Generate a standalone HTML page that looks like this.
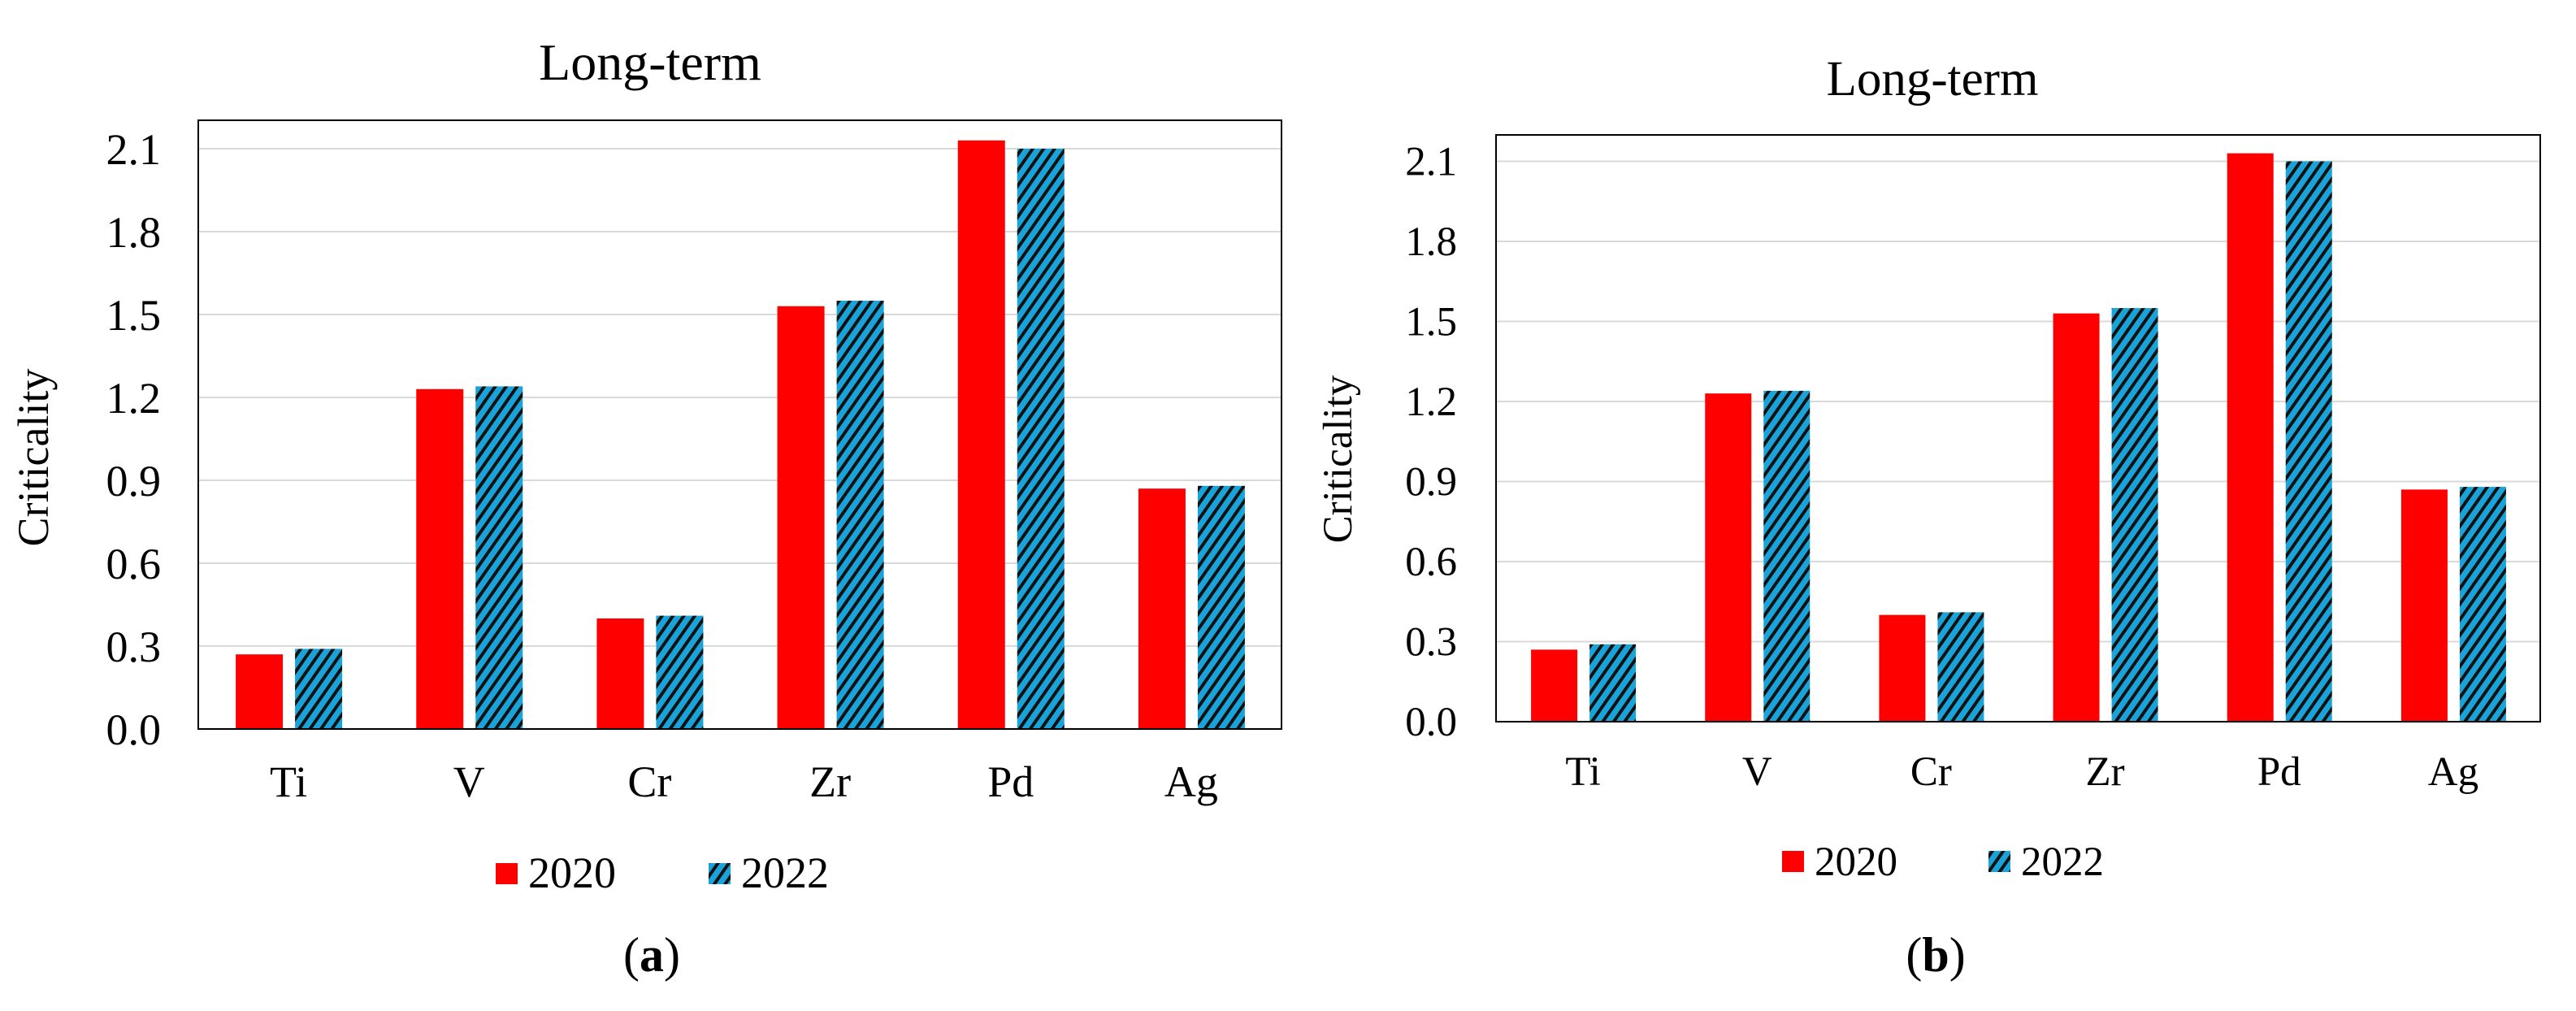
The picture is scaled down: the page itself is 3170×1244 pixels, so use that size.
<!DOCTYPE html>
<html><head><meta charset="utf-8"><style>
html,body{margin:0;padding:0;background:#fff;}
svg{display:block;font-family:"Liberation Serif",serif;}
</style></head><body>
<svg id="fig" width="3170" height="1244" viewBox="0 0 3170 1244">
<defs>
<pattern id="hatch" patternUnits="userSpaceOnUse" width="11" height="11" patternTransform="rotate(35)">
<rect width="11" height="11" fill="#1aa3d9"/>
<rect width="4" height="11" fill="#111"/>
</pattern>
</defs>
</svg>
<script>
const categories = ["Ti","V","Cr","Zr","Pd","Ag"];
const values2020 = [0.27,1.23,0.40,1.53,2.13,0.87];
const values2022 = [0.29,1.24,0.41,1.55,2.10,0.88];
const yTicks = [0,0.3,0.6,0.9,1.2,1.5,1.8,2.1];
const tickLabels = ["0.0","0.3","0.6","0.9","1.2","1.5","1.8","2.1"];
const seriesNames = ["2020","2022"];

const NS="http://www.w3.org/2000/svg";
const svg=document.getElementById('fig');
function mk(tag,attrs,parent){const e=document.createElementNS(NS,tag);for(const k in attrs)e.setAttribute(k,attrs[k]);(parent||svg).appendChild(e);return e;}

const panels=[
 {id:'a',x0:244,x1:1577,top:148,y03:795,y0:897,fs:54,tfs:64,titleX:800,titleY:98,labX:198,labDy:19,catY:980,yTitleX:59,yTitleY:563,legY:1075,leg:[610,872],label:'a',labelX:802,labelY:1195,barW:58},
 {id:'b',x0:1841,x1:3126,top:166,y03:789.5,y0:888,fs:51,tfs:61,titleX:2378,titleY:117,labX:1793,labDy:17,catY:966,yTitleX:1663,yTitleY:565,legY:1060,leg:[2193,2447],label:'b',labelX:2382,labelY:1195,barW:57}
];
panels.forEach(p=>{
 const g=mk('g',{});
 
 
 const yS=v=>p.y0-(p.y0-p.y03)*v/0.3;
 const cw=(p.x1-p.x0)/categories.length;
 const t=mk('text',{x:p.titleX,y:p.titleY,'font-size':p.tfs,'text-anchor':'middle'},g);t.textContent='Long-term';
 
 
 yTicks.forEach((v,i)=>{
  if(v>0){const l=mk('line',{x1:p.x0,x2:p.x1,y1:yS(v),y2:yS(v),stroke:'#d9d9d9','stroke-width':2},g);
   
   }
  const tx=mk('text',{x:p.labX,y:yS(v)+p.labDy,'font-size':p.fs,'text-anchor':'end'},g);tx.textContent=tickLabels[i];
  
  
 });
 categories.forEach((c,i)=>{
  const cx=p.x0+cw*(i+0.5);
  const r=mk('rect',{x:cx-7-p.barW,y:yS(values2020[i]),width:p.barW,height:p.y0-yS(values2020[i]),fill:'#ff0000'},g);
  
  
  const b=mk('rect',{x:cx+8,y:yS(values2022[i]),width:p.barW,height:p.y0-yS(values2022[i]),fill:'url(#hatch)'},g);
  
  
  const ct=mk('text',{x:cx,y:p.catY,'font-size':p.fs,'text-anchor':'middle'},g);ct.textContent=c;
  
  
 });
 const fr=mk('rect',{x:p.x0,y:p.top,width:p.x1-p.x0,height:p.y0-p.top,fill:'none',stroke:'#000','stroke-width':2},g);
 
 
 const yt=mk('text',{x:p.yTitleX,y:p.yTitleY,'font-size':p.fs,'text-anchor':'middle',transform:`rotate(-90 ${p.yTitleX} ${p.yTitleY})`},g);yt.textContent='Criticality';
 
 
 seriesNames.forEach((s,i)=>{
  const lx=p.leg[i];
  const sw=mk('rect',{x:lx,y:p.legY-13,width:27,height:26,fill:i==0?'#ff0000':'url(#hatch)'},g);
  
  
  const lt=mk('text',{x:lx+40,y:p.legY+17,'font-size':p.fs},g);lt.textContent=s;
  
  
 });
 const pl=mk('text',{x:p.labelX,y:p.labelY,'font-size':60,'text-anchor':'middle'},g);
 pl.innerHTML='(<tspan font-weight="bold">'+p.label+'</tspan>)';
 
 
});
</script>
</body></html>
